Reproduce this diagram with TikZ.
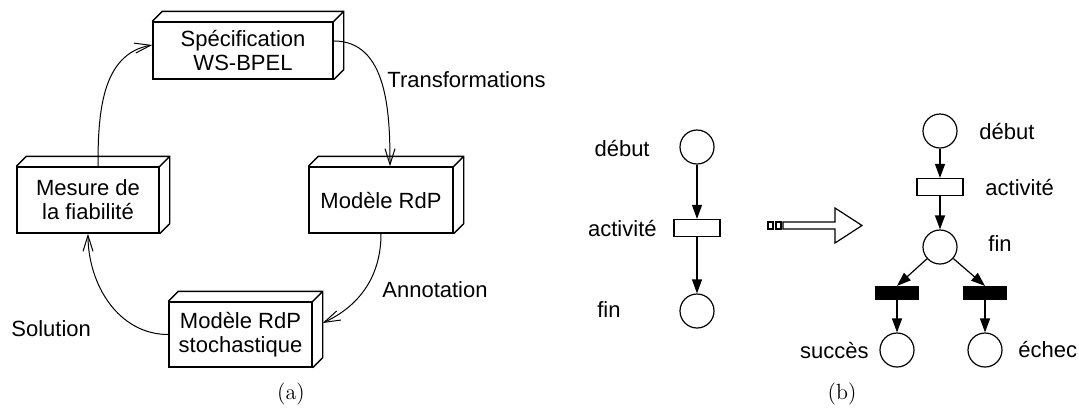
\documentclass[tikz,border=0pt]{standalone}
\usepackage{fontspec}
\newfontfamily\helv{Liberation Sans}
\usetikzlibrary{arrows.meta,positioning}

\tikzset{
	box/.style={draw, line width=0.7pt, align=center, inner sep=0pt, font=\helv\fontsize{11}{12}\selectfont},
	lbl/.style={inner sep=0pt, font=\helv\fontsize{11}{12}\selectfont},
	placenode/.style={draw, circle, line width=0.6pt, minimum size=17pt, inner sep=0pt},
	transnode/.style={draw, rectangle, line width=0.6pt, minimum width=23pt, minimum height=8.5pt, inner sep=0pt},
	blacktrans/.style={transnode, fill=black, minimum width=21.5pt, minimum height=6.5pt},
	flow/.style={line width=0.5pt, -{Straight Barb[length=8pt,width=5pt]}},
	netarc/.style={line width=0.6pt, -{Triangle[length=7pt,width=5pt]}},
}

\begin{document}
\begin{tikzpicture}[x=0.5pt, y=-0.5pt]
		\useasboundingbox (0,0) rectangle (1079,408);
		
		% (a) cycle
		\node[box, minimum width=90pt, minimum height=28.5pt] (spec) at (243,50.5) {Spécification\\WS-BPEL};
		\node[box, minimum width=72pt, minimum height=33pt] (rdp) at (381,200) {Modèle RdP};
		\node[box, minimum width=71.5pt, minimum height=32.5pt] (sto) at (240.5,334.5) {Modèle RdP\\stochastique};
		\node[box, minimum width=71pt, minimum height=33pt] (mes) at (88,200) {Mesure de\\la fiabilité};
		\foreach \n in {spec,rdp,sto,mes}
			\draw[line width=0.7pt] (\n.north west) -- ++(5pt,5pt) -| ([shift={(5pt,5pt)}]\n.south east) -- (\n.south east)
				(\n.north east) -- ++(5pt,5pt);
		
		\draw[flow] (spec.6) to[out=0,in=90] ([xshift=4.5pt]rdp.north);
		\draw[flow] (rdp.south) to[out=-90,in=25] ([shift={(5pt,5.75pt)}]sto.east);
		\draw[flow] (sto.west) to[out=180,in=-90] (mes.south);
		\draw[flow] ([xshift=5pt]mes.north) to[out=90,in=190] ([yshift=2.75pt]spec.west);
		
		\node[lbl, anchor=west] (ltr) at (387,80) {Transformations};
		\node[lbl, anchor=west] (lann) at (382,290) {Annotation};
		\node[lbl, anchor=west] (lsol) at (11,329) {Solution};
		
		% (b) left net
		\node[placenode] (d1) at (697,147) {};
		\node[transnode] (a1) at (697,228) {};
		\node[placenode] (f1) at (697,311) {};
		\draw[netarc] (d1) -- (a1);
		\draw[netarc] (a1) -- (f1);
		\node[lbl, anchor=east] (ld1) at (650,148) {début};
		\node[lbl, anchor=east] (la1) at (657,228) {activité};
		\node[lbl, anchor=east] (lf1) at (621,310) {fin};
		
		% hollow arrow
		\draw[line width=0.6pt] (783,222) -- (835,222) -- (835,208) -- (862,225.5) -- (835,243) -- (835,229) -- (783,229) -- cycle;
		\draw[line width=0.6pt] (768,222) rectangle (773,229);
		\draw[line width=0.6pt] (776,222) rectangle (781,229);
		
		% (b) right net
		\node[placenode] (d2) at (940,131) {};
		\node[transnode] (a2) at (940,187) {};
		\node[placenode] (f2) at (940,247) {};
		\node[blacktrans] (ok) at (897,293) {};
		\node[blacktrans] (ko) at (985,293) {};
		\node[placenode] (s2) at (897,350) {};
		\node[placenode] (e2) at (985,350) {};
		\draw[netarc] (d2) -- (a2);
		\draw[netarc] (a2) -- (f2);
		\draw[netarc] (f2) -- (ok.north);
		\draw[netarc] (f2) -- (ko.north);
		\draw[netarc] (ok) -- (s2);
		\draw[netarc] (ko) -- (e2);
		\node[lbl, anchor=west] (ld2) at (979,132) {début};
		\node[lbl, anchor=west] (la2) at (985,188) {activité};
		\node[lbl, anchor=west] (lf2) at (988,244) {fin};
		\node[lbl, anchor=east] (ls2) at (869,350) {succès};
		\node[lbl, anchor=west] (le2) at (1018,349) {échec};
		
		% captions
		\node[font=\fontsize{11}{13}\selectfont] (capa) at (291,394) {(a)};
		\node[font=\fontsize{11}{13}\selectfont] (capb) at (842,394) {(b)};
	\end{tikzpicture}
\end{document}
